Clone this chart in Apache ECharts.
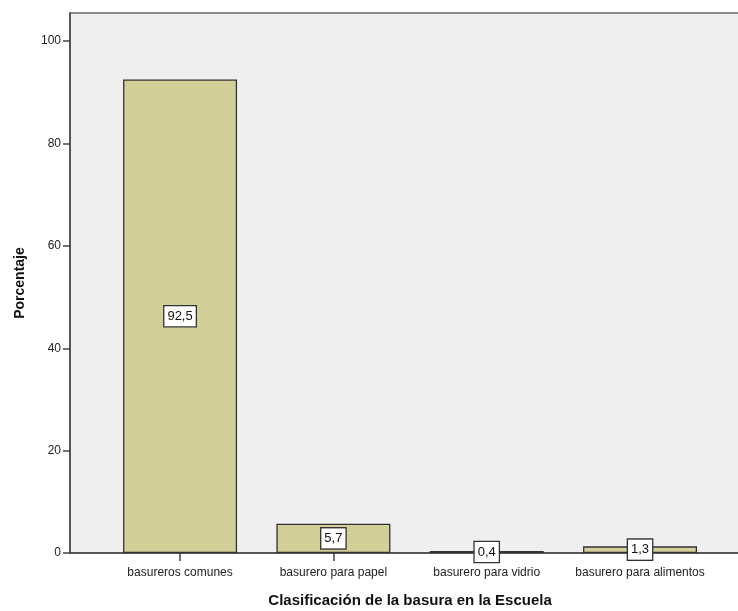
<!DOCTYPE html>
<html>
<head>
<meta charset="utf-8">
<script src="https://cdn.jsdelivr.net/npm/echarts@6/dist/echarts.min.js"></script>
<style>
  html, body { margin: 0; padding: 0; background: #fff; }
  #chart { width: 738px; height: 611px; }
</style>
</head>
<body>
<div id="chart"></div>
<script>
// categorias y porcentajes
var categorias = ['basureros comunes', 'basurero para papel', 'basurero para vidrio', 'basurero para alimentos'];
var porcentajes = [92.5, 5.7, 0.4, 1.3];
var yTicks = [0, 20, 40, 60, 80, 100];

var font = 'Arial, "Liberation Sans", sans-serif';
var yMax = 105.5;

var myChart = echarts.init(document.getElementById('chart'));
myChart.setOption({
  animation: false,
  textStyle: { fontFamily: font },
  grid: [
    // panel de fondo
    { left: 70, right: -4, top: 13, bottom: 58, show: true, backgroundColor: '#efefef',
      borderColor: '#6a6a6a', borderWidth: 1.5, outerBoundsMode: 'none', containLabel: false },
    // area de barras
    { left: 103.4, right: 21.3, top: 13, bottom: 58, outerBoundsMode: 'none', containLabel: false }
  ],
  xAxis: [
    { gridIndex: 0, type: 'value', min: 0, max: 1,
      axisLine: { show: true, lineStyle: { color: '#444', width: 1.5 } },
      axisTick: { show: false }, axisLabel: { show: false }, splitLine: { show: false } },
    { gridIndex: 1, type: 'category', data: categorias,
      name: 'Clasificación de la basura en la Escuela', nameLocation: 'middle', nameGap: 40,
      nameTextStyle: { fontSize: 15, fontWeight: 'bold', color: '#111', fontFamily: font },
      axisLine: { show: false },
      axisTick: { show: true, alignWithLabel: true, length: 8, lineStyle: { color: '#444', width: 1.5 } },
      axisLabel: { fontSize: 12, color: '#222', margin: 14, interval: 0 } }
  ],
  yAxis: [
    { gridIndex: 0, type: 'value', min: 0, max: yMax,
      name: 'Porcentaje', nameLocation: 'middle', nameGap: 43,
      nameTextStyle: { fontSize: 14, fontWeight: 'bold', color: '#111', fontFamily: font },
      axisLine: { show: true, lineStyle: { color: '#444', width: 1.5 } },
      axisTick: { show: true, length: 7, customValues: yTicks, lineStyle: { color: '#444', width: 1.5 } },
      axisLabel: { fontSize: 12, color: '#222', margin: 9, customValues: yTicks },
      splitLine: { show: false } },
    { gridIndex: 1, type: 'value', min: 0, max: yMax, show: false }
  ],
  series: [
    {
      type: 'bar',
      xAxisIndex: 1, yAxisIndex: 1,
      data: porcentajes,
      barWidth: 114,
      itemStyle: { color: '#d3cf98', borderColor: '#333', borderWidth: 1.3 },
      label: {
        show: true, position: 'inside',
        formatter: function (p) { return String(p.value.toFixed(1)).replace('.', ','); },
        fontSize: 13, color: '#111',
        backgroundColor: '#fff', borderColor: '#333', borderWidth: 1.3,
        padding: [4, 3, 3, 3]
      }
    }
  ]
});
</script>
</body>
</html>
